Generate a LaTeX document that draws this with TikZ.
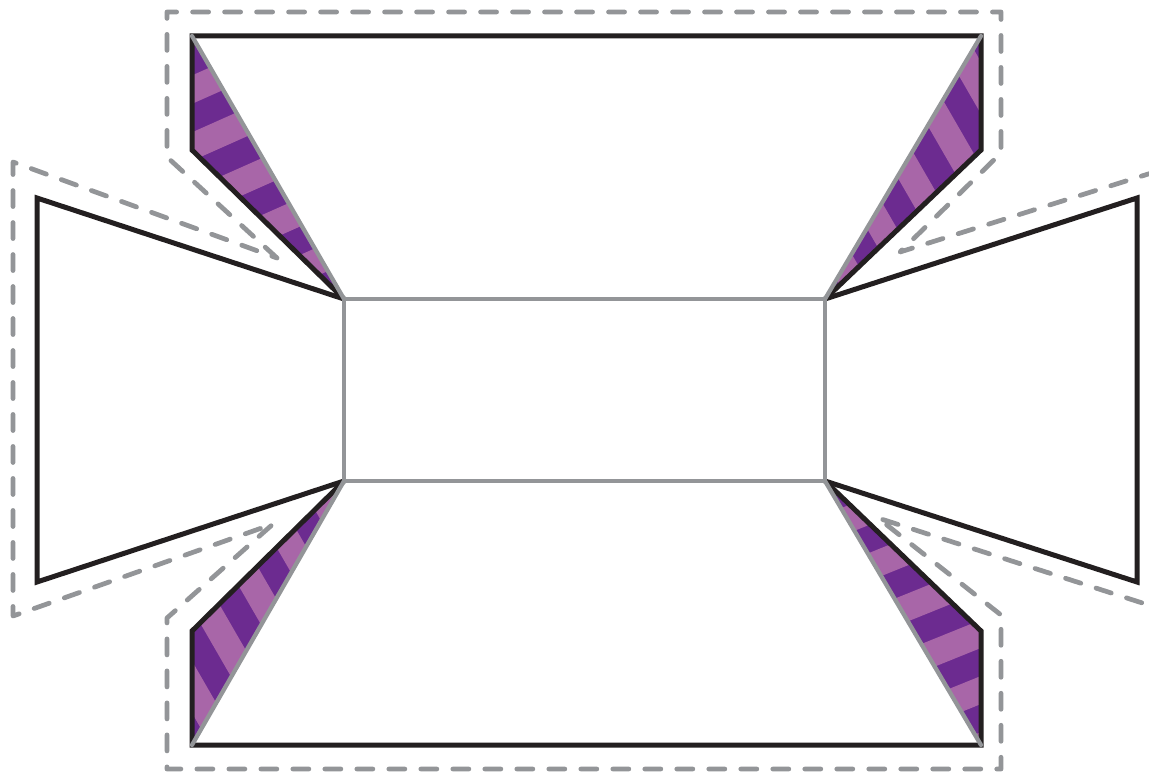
\documentclass[tikz,border=0pt]{standalone}
\usepackage{tikz}
\usetikzlibrary{calc}
\definecolor{inkc}{RGB}{35,31,32}
\definecolor{foldc}{RGB}{147,149,152}
\definecolor{flapdark}{RGB}{108,43,144}
\definecolor{flaplight}{RGB}{168,102,168}
\tikzset{
  cut/.style   = {draw=inkc, line width=0.1cm, line join=miter},
  fold/.style  = {draw=foldc, line width=0.085cm, line cap=round},
  bleed/.style = {draw=foldc, line width=0.095cm, line cap=round, line join=round,
                  dash pattern=on 0.32cm off 0.32cm},
}
% striped glue flap: three corners, stripe angle, stripe phase
\newcommand{\flapfill}[5]{%
  \begin{scope}
    \clip (#1) -- (#2) -- (#3) -- cycle;
    \fill[flapdark] (#1) -- (#2) -- (#3) -- cycle;
    \begin{scope}[shift={(#1)}, rotate=#4]
      \foreach \k in {-8,...,8}
        \fill[flaplight] (-500,\k*52+#5) rectangle (500,\k*52+#5+26);
    \end{scope}
  \end{scope}}

\begin{document}
\begin{tikzpicture}[x=0.02cm, y=-0.02cm]
\fill[white] (0,0) rectangle (1149,773);
\useasboundingbox (0,0) rectangle (1149,773);

% --- corners -------------------------------------------------------------
\coordinate (cTL) at (344,299);
\coordinate (cTR) at (825,299);
\coordinate (cBR) at (825,481);
\coordinate (cBL) at (344,481);
\coordinate (tL)  at (192,36);
\coordinate (tR)  at (981,36);
\coordinate (tLs) at (192,150);
\coordinate (tRs) at (981,150);
\coordinate (bL)  at (192,745);
\coordinate (bR)  at (981,745);
\coordinate (bLs) at (192,631);
\coordinate (bRs) at (981,631);
\coordinate (lT)  at (37,198);
\coordinate (lB)  at (37,582);
\coordinate (rT)  at (1137,198);
\coordinate (rB)  at (1137,582);

% --- bleed outline -------------------------------------------------------
\begin{scope}
  \clip (0,0) rectangle (1149,773);
  \draw[bleed] (277,258) -- (167,157) -- (167,12) -- (1001,12) -- (1001,153)
    -- (900,252) -- (1161,170) -- (1161,609) -- (878,518) -- (1001,615)
    -- (1001,769) -- (167,769) -- (167,618) -- (273,524) -- (13,616)
    -- (13,162) -- cycle;
\end{scope}

% --- glue flaps ----------------------------------------------------------
\flapfill{tL}{tLs}{cTL}{24}{36}
\flapfill{tR}{tRs}{cTR}{-60}{13}
\flapfill{bL}{bLs}{cBL}{-60}{10}
\flapfill{bR}{bRs}{cBR}{22}{40}

% --- cut lines -----------------------------------------------------------
\draw[cut] (cTL) -- (tLs) -- (tL) -- (tR) -- (tRs) -- (cTR);
\draw[cut] (cTR) -- (rT) -- (rB) -- (cBR);
\draw[cut] (cBR) -- (bRs) -- (bR) -- (bL) -- (bLs) -- (cBL);
\draw[cut] (cBL) -- (lB) -- (lT) -- (cTL);

% --- fold lines ----------------------------------------------------------
\draw[fold] (cTL) rectangle (cBR);
\draw[fold] (tL) -- (cTL);
\draw[fold] (tR) -- (cTR);
\draw[fold] (bL) -- (cBL);
\draw[fold] (bR) -- (cBR);

\end{tikzpicture}
\end{document}
